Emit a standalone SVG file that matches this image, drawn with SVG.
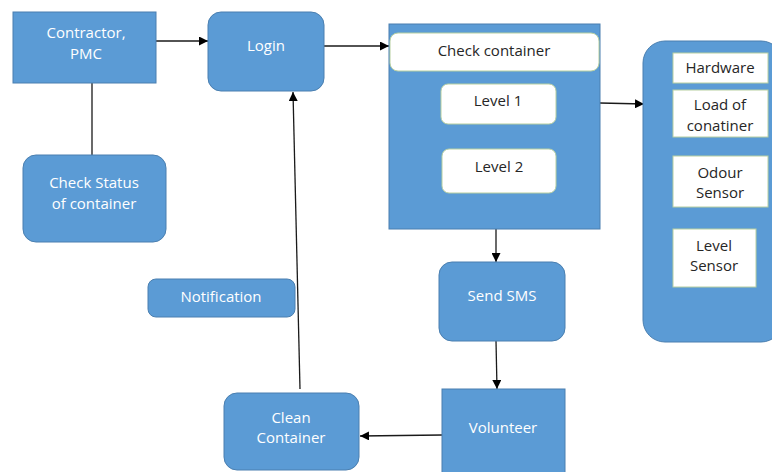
<svg xmlns="http://www.w3.org/2000/svg" width="772" height="472" viewBox="0 0 772 472">
  <defs>
    <marker id="arrow" viewBox="0 0 10 10" refX="10" refY="5" markerWidth="9" markerHeight="9" markerUnits="userSpaceOnUse" orient="auto">
      <path d="M0,0 L10,5 L0,10 z" fill="#000"/>
    </marker>
    <style>
      .box { fill: #5b9bd5; stroke: #4a7fb0; stroke-width: 1; }
      .panel { fill: #ffffff; stroke: #b7cfa0; stroke-width: 1; }
      .lbl { font-family: "Open Sans", "Liberation Sans", sans-serif; font-size: 15px; fill: #ffffff; text-anchor: middle; }
      .dark { font-family: "Open Sans", "Liberation Sans", sans-serif; font-size: 15px; fill: #262626; text-anchor: middle; }
      .line { stroke: #1a1a1a; stroke-width: 1.3; fill: none; }
      .arr { stroke: #1a1a1a; stroke-width: 1.3; fill: none; marker-end: url(#arrow); }
    </style>
  </defs>

  <rect width="772" height="472" fill="#ffffff"/>

  <!-- connectors -->
  <g id="connectors">
    <line class="line" x1="92" y1="83" x2="92" y2="155"/>
    <line class="arr" x1="156" y1="41" x2="208" y2="41"/>
    <line class="arr" x1="324" y1="46" x2="389" y2="46"/>
    <line class="arr" x1="600" y1="103" x2="644" y2="104"/>
    <line class="arr" x1="496" y1="229" x2="496" y2="262"/>
    <line class="arr" x1="496" y1="341" x2="497" y2="389"/>
    <line class="arr" x1="442" y1="435" x2="360" y2="436"/>
    <line class="arr" x1="300" y1="389" x2="293" y2="92"/>
  </g>

  <g id="contractor">
    <rect class="box" x="13" y="12" width="143" height="71"/>
    <text class="lbl" x="86" y="38">Contractor,</text>
    <text class="lbl" x="86" y="59">PMC</text>
  </g>

  <g id="check-status">
    <rect class="box" x="23" y="155" width="143" height="87" rx="13"/>
    <text class="lbl" x="94" y="188">Check Status</text>
    <text class="lbl" x="94" y="209">of container</text>
  </g>

  <g id="login">
    <rect class="box" x="208" y="12" width="116" height="79" rx="13"/>
    <text class="lbl" x="266" y="51">Login</text>
  </g>

  <g id="check-container">
    <rect class="box" x="389" y="24" width="211" height="205"/>
    <rect class="panel" x="390" y="33" width="209" height="38" rx="8"/>
    <text class="dark" x="494" y="56">Check container</text>
    <rect class="panel" x="441" y="84" width="115" height="40" rx="7"/>
    <text class="dark" x="498" y="106">Level 1</text>
    <rect class="panel" x="442" y="149" width="114" height="44" rx="7"/>
    <text class="dark" x="499" y="172">Level 2</text>
  </g>

  <g id="hardware">
    <rect class="box" x="643" y="41" width="140" height="301" rx="22"/>
    <rect class="panel" x="673" y="53" width="95" height="30"/>
    <text class="dark" x="720" y="73">Hardware</text>
    <rect class="panel" x="673" y="90" width="95" height="47"/>
    <text class="dark" x="720" y="110">Load of</text>
    <text class="dark" x="720" y="131">conatiner</text>
    <rect class="panel" x="673" y="156" width="95" height="51"/>
    <text class="dark" x="720" y="178">Odour</text>
    <text class="dark" x="720" y="198">Sensor</text>
    <rect class="panel" x="673" y="229" width="83" height="58"/>
    <text class="dark" x="714" y="251">Level</text>
    <text class="dark" x="714" y="271">Sensor</text>
  </g>

  <g id="notification">
    <rect class="box" x="148" y="279" width="147" height="38" rx="8"/>
    <text class="lbl" x="221" y="302">Notification</text>
  </g>

  <g id="send-sms">
    <rect class="box" x="439" y="262" width="126" height="79" rx="13"/>
    <text class="lbl" x="502" y="301">Send SMS</text>
  </g>

  <g id="volunteer">
    <rect class="box" x="442" y="389" width="123" height="90"/>
    <text class="lbl" x="503" y="433">Volunteer</text>
  </g>

  <g id="clean-container">
    <rect class="box" x="224" y="393" width="135" height="77" rx="13"/>
    <text class="lbl" x="291" y="423">Clean</text>
    <text class="lbl" x="291" y="443">Container</text>
  </g>
</svg>
